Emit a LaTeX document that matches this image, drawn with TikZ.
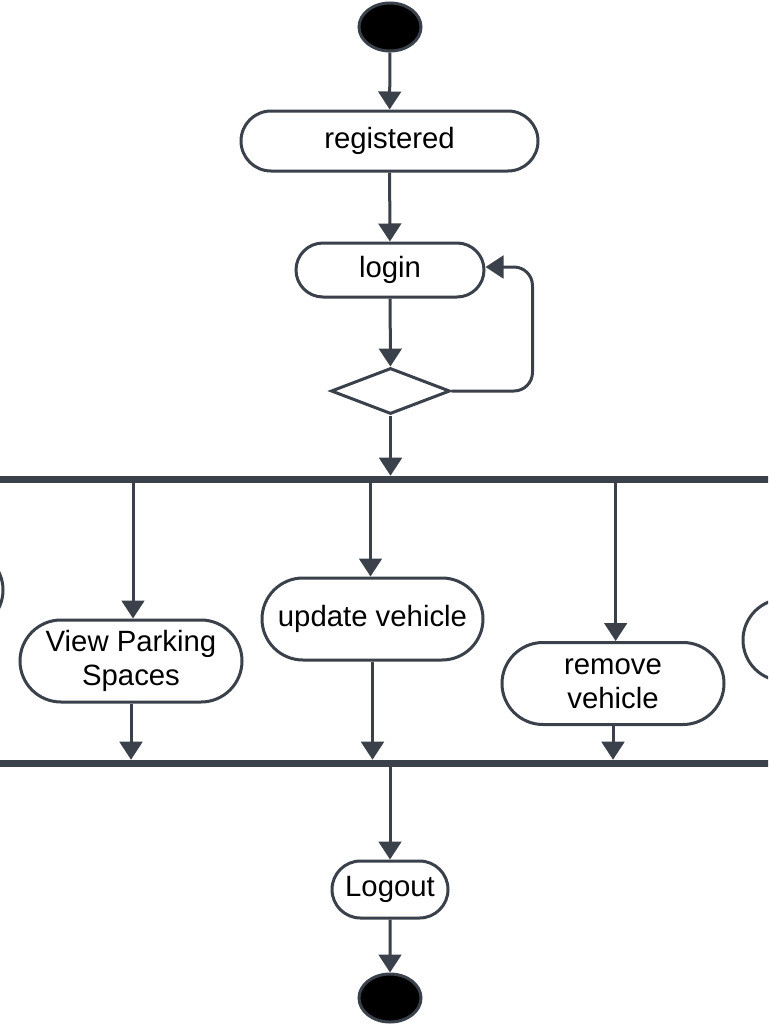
\documentclass[tikz,border=0pt]{standalone}
\usepackage{fontspec}
\setmainfont{Liberation Sans}
\usetikzlibrary{arrows.meta,shapes.misc,shapes.geometric,calc}
\definecolor{ln}{HTML}{3A414A}
\begin{document}
\begin{tikzpicture}[x=0.75pt,y=-0.75pt,
  act/.style={rounded rectangle, draw=ln, line width=2.25pt, fill=white, inner sep=0pt,
    font=\fontsize{22}{25.5}\selectfont, align=center},
  dot/.style={ellipse, draw=ln, line width=2.25pt, fill=black, minimum width=46.5pt, minimum height=36pt, inner sep=0pt},
  bar/.style={rectangle, fill=ln, inner sep=0pt, minimum width=582pt, minimum height=5.25pt},
  flow/.style={draw=ln, line width=2.25pt, -{Triangle[length=13.5pt,width=17pt]}}]
\useasboundingbox (0,0) rectangle (768,1024);
\clip (0,0) rectangle (768,1024);
\node[dot] (start) at (390,27) {};
\node[act, minimum width=222.75pt, minimum height=45pt] (reg) at (389.5,141) {registered};
\node[act, minimum width=141pt, minimum height=40.5pt] (login) at (390,270) {login};
\node[diamond, draw=ln, line width=2.25pt, fill=white, inner sep=0pt, minimum width=89.25pt, minimum height=34.5pt] (dia) at (390.5,391) {};
\node[bar] (fork) at (384,479.5) {};
\node[act, minimum width=166.5pt, minimum height=61.5pt] (left) at (-108,590) {};
\node[act, minimum width=166.5pt, minimum height=61.5pt] (vps) at (131,661) {View Parking\\Spaces};
\node[act, minimum width=165.75pt, minimum height=61.5pt] (upd) at (372.5,619) {update vehicle};
\node[act, minimum width=166.5pt, minimum height=61.5pt] (rem) at (613,683.5) {remove\\vehicle};
\node[act, minimum width=166.5pt, minimum height=61.5pt] (right) at (854,640) {};
\node[bar] (join) at (384,763.5) {};
\node[act, minimum width=87pt, minimum height=42.75pt] (logout) at (390,889.5) {Logout};
\node[dot] (end) at (390,998) {};
\coordinate (loopc) at ($(login.east)+(47,-3)$);

\draw[flow] (start) -- (reg);
\draw[flow] (reg) -- (login);
\draw[flow] (login) -- (dia);
\draw[flow, rounded corners=14pt] (dia.east) -| (loopc) -- ([yshift=2.25pt]login.east);
\draw[flow] (dia.south) -- (dia.south |- fork.north);
\draw[flow] ([xshift=1.5pt]fork.south -| vps.north) -- ([xshift=1.5pt]vps.north);
\draw[flow] ([xshift=-1.5pt]fork.south -| upd.north) -- ([xshift=-1.5pt]upd.north);
\draw[flow] ([xshift=2pt]fork.south -| rem.north) -- ([xshift=2pt]rem.north);
\draw[flow] (vps.south) -- (vps.south |- join.north);
\draw[flow] (upd.south) -- (upd.south |- join.north);
\draw[flow] (rem.south) -- (rem.south |- join.north);
\draw[flow] (join.south -| logout.north) -- (logout.north);
\draw[flow] (logout) -- (end);
\end{tikzpicture}
\end{document}
